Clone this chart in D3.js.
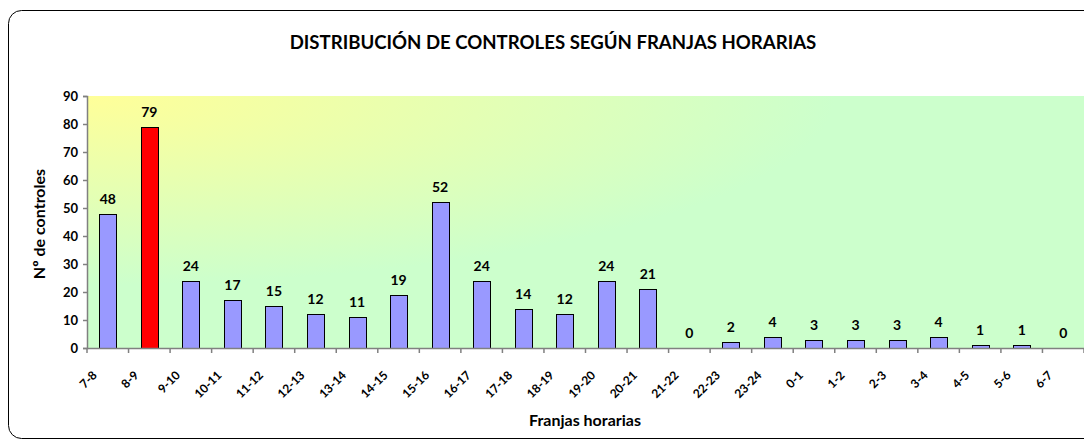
<!DOCTYPE html>
<html><head><meta charset="utf-8">
<script src="https://cdn.jsdelivr.net/npm/d3@7"></script>
<style>body{margin:0;background:#fff}svg{display:block}text{font-family:Lato,"Open Sans",sans-serif;font-weight:bold;fill:#000}</style>
</head><body>
<script>
const categories = ["7-8","8-9","9-10","10-11","11-12","12-13","13-14","14-15","15-16","16-17","17-18","18-19","19-20","20-21","21-22","22-23","23-24","0-1","1-2","2-3","3-4","4-5","5-6","6-7"];
const values = [48,79,24,17,15,12,11,19,52,24,14,12,24,21,0,2,4,3,3,3,4,1,1,0];
const highlight = ["8-9"];
const yTicks = [0,10,20,30,40,50,60,70,80,90];
const title = "DISTRIBUCIÓN DE CONTROLES SEGÚN FRANJAS HORARIAS";
const xTitle = "Franjas horarias";
const yTitle = "Nº de controles";

const W = 1084, H = 445;
const m = {left: 87, right: 0, top: 96, bottom: 97};
const svg = d3.select("body").append("svg").attr("width", W).attr("height", H);

svg.append("rect").attr("x", 8.5).attr("y", 10.5).attr("width", 1090).attr("height", 428)
  .attr("rx", 13).attr("fill", "#fff").attr("stroke", "#000").attr("stroke-width", 1);

const defs = svg.append("defs");
const grad = defs.append("radialGradient").attr("id", "bg").attr("cx", 0).attr("cy", 0).attr("r", 1).attr("fx", 0).attr("fy", 0);
grad.append("stop").attr("offset", "0").attr("stop-color", "#FFFF99");
grad.append("stop").attr("offset", "0.75").attr("stop-color", "#CCFFCC");
grad.append("stop").attr("offset", "1").attr("stop-color", "#CCFFCC");

const x = d3.scaleBand().domain(categories).range([m.left, W - m.right]).paddingInner(0).paddingOuter(0);
const y = d3.scaleLinear().domain([0, 90]).range([H - m.bottom, m.top]);

svg.append("rect").attr("x", m.left).attr("y", m.top).attr("width", W - m.right - m.left).attr("height", y(0) - m.top).attr("fill", "url(#bg)");

const bw = 17;
svg.append("g").selectAll("rect").data(values).join("rect")
  .attr("x", (d, i) => Math.round(x(categories[i]) + x.bandwidth() / 2 - bw / 2) + 0.5)
  .attr("y", d => Math.round(y(d)) + 0.5)
  .attr("width", bw)
  .attr("height", d => Math.max(0, Math.round(y(0)) - Math.round(y(d))))
  .attr("fill", (d, i) => highlight.includes(categories[i]) ? "#FF0000" : "#9999FF")
  .attr("stroke", "#000").attr("stroke-width", 1)
  .attr("display", d => d > 0 ? null : "none");

svg.append("g").selectAll("text").data(values).join("text")
  .attr("x", (d, i) => x(categories[i]) + x.bandwidth() / 2)
  .attr("y", d => y(d) - 10)
  .attr("text-anchor", "middle").attr("font-size", 14).text(d => d);

const yAxis = svg.append("g").attr("transform", `translate(${m.left},0)`)
  .call(d3.axisLeft(y).tickValues(yTicks).tickSize(4).tickPadding(5));
yAxis.select(".domain").attr("stroke", "#808080").attr("stroke-width", 1.5);
yAxis.selectAll(".tick line").attr("stroke", "#808080").attr("stroke-width", 1.5);
yAxis.selectAll("text").attr("font-size", 13).attr("font-family", "Lato").attr("font-weight", "bold").attr("fill", "#000");

const xAxis = svg.append("g").attr("transform", `translate(0,${y(0)})`)
  .call(d3.axisBottom(x).tickSize(0).tickFormat(""));
xAxis.select(".domain").attr("stroke", "#808080").attr("stroke-width", 1.5);
xAxis.selectAll(".tick").remove();
const bounds = categories.map(c => x(c)).concat([x(categories[categories.length - 1]) + x.bandwidth()]);
svg.append("g").selectAll("line").data(bounds).join("line")
  .attr("x1", d => d).attr("x2", d => d).attr("y1", y(0)).attr("y2", y(0) + 5)
  .attr("stroke", "#808080").attr("stroke-width", 1.5);

svg.append("g").selectAll("text").data(categories).join("text")
  .attr("transform", c => `translate(${x(c) + x.bandwidth() / 2 - 10},${y(0) + 28}) rotate(-45)`)
  .attr("text-anchor", "end").attr("font-size", 12).text(c => c);

svg.append("text").attr("x", 553).attr("y", 49).attr("text-anchor", "middle").attr("font-size", 18.6).text(title);
svg.append("text").attr("x", 585).attr("y", 426).attr("text-anchor", "middle").attr("font-size", 16).text(xTitle);
svg.append("text").attr("transform", "translate(45,224) rotate(-90)").attr("text-anchor", "middle").attr("font-size", 16).text(yTitle);
</script>
</body></html>
